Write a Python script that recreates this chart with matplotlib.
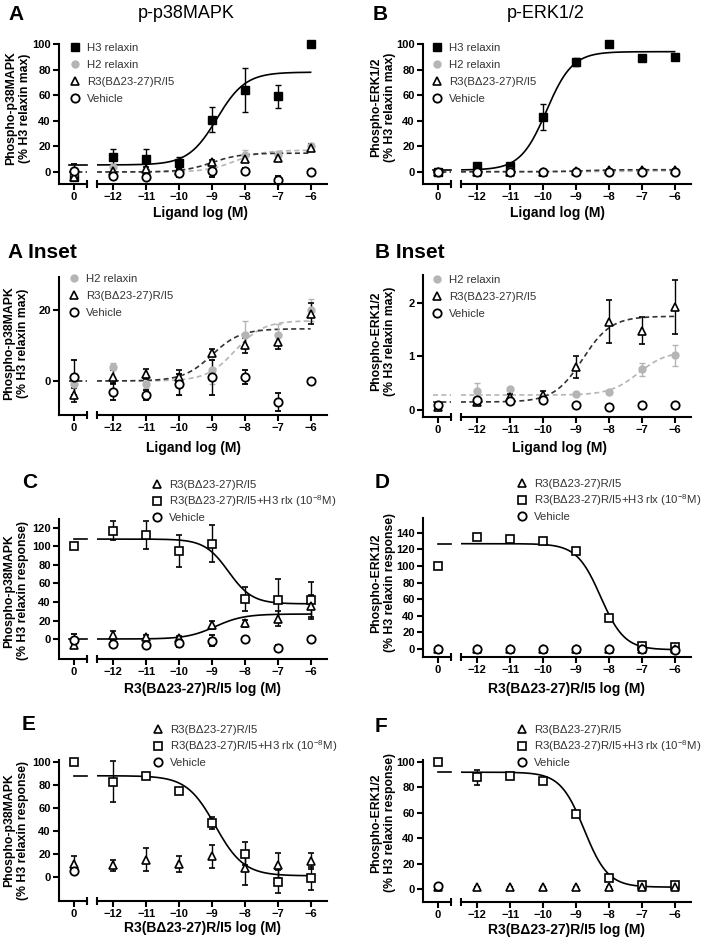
import numpy as np
import matplotlib
matplotlib.use('Agg')
import matplotlib.pyplot as plt
from matplotlib.lines import Line2D

plt.rcParams['font.family'] = ['Liberation Sans', 'DejaVu Sans']
plt.rcParams['mathtext.fontset'] = 'custom'
plt.rcParams['mathtext.rm'] = 'Liberation Sans'
plt.rcParams['mathtext.it'] = 'Liberation Sans'

# x positions: first entry is the basal "0" point, the rest are log doses
doses = [0, -12, -11, -10, -9, -8, -7, -6]
dose_labels = ['0', '\u221212', '\u221211', '\u221210', '\u22129', '\u22128', '\u22127', '\u22126']

# Panel A / A inset (p-p38MAPK, % H3 relaxin max)
a_h3 = [-4, 12, 10, 7, 41, 64, 59, 100]
a_h3_err = [2, 6, 8, 5, 10, 17, 9, 0]
a_h2 = [-1, 4, -1, -1, 3, 13, 13, 20]
a_h2_err = [3, 1, 1, 3, 4, 4, 3, 3]
a_r3 = [-4, 1, 2, 1, 8, 10, 11, 19]
a_r3_err = [2, 2, 1.5, 2, 1, 2, 2, 3]
a_veh = [1, -3, -4, -1, 1, 1, -6, 0]
a_veh_err = [5, 2.5, 1.5, 3, 5, 2, 2.5, 0]
# fit params: [value at low dose, value at high dose, logEC50, hill]
a_h3_fit = [5.5, 78, -8.85, 1.0]
a_h2_fit = [0, 17, -8.3, 1.0]
a_r3_fit = [0, 14.7, -9.0, 1.0]

# Panel B / B inset (p-ERK1/2, % H3 relaxin max)
b_h3 = [0, 5, 5, 43, 86, 100, 89, 90]
b_h3_err = [0, 1, 1, 10, 3, 0, 1, 1]
b_h2 = [0.05, 0.35, 0.4, 0.2, 0.3, 0.33, 0.76, 1.02]
b_h2_err = [0.02, 0.15, 0.03, 0.05, 0.03, 0.03, 0.12, 0.2]
b_r3 = [0.05, 0.15, 0.25, 0.28, 0.8, 1.65, 1.48, 1.92]
b_r3_err = [0.03, 0.03, 0.05, 0.08, 0.2, 0.4, 0.25, 0.5]
b_veh = [0.1, 0.18, 0.17, 0.18, 0.09, 0.05, 0.1, 0.1]
b_veh_err = [0, 0, 0, 0, 0, 0, 0, 0]
b_h3_fit = [1.5, 94, -9.9, 1.1]
b_h2_fit = [0.28, 1.1, -7.1, 1.0]
b_r3_fit = [0.15, 1.75, -8.8, 1.0]

# Panel C (p-p38MAPK, % H3 relaxin response)
c_sq = [100, 117, 112, 95, 103, 43, 42, 42]
c_sq_err = [0, 10, 15, 17, 20, 13, 23, 20]
c_tri = [-7, 4, 2, 1, 15, 17, 22, 36]
c_tri_err = [3, 5, 2, 2, 4, 4, 8, 12]
c_veh = [-1, -5, -7, -4, -2, 0, -10, 0]
c_veh_err = [6, 3, 2, 5, 6, 2, 3, 0]
c_sq_fit = [108, 38, -8.5, 1.2]
c_tri_fit = [0, 27, -8.9, 1.0]

# Panel D (p-ERK1/2, % H3 relaxin response)
d_sq = [100, 135, 133, 130, 118, 37, 3, 2]
d_sq_err = [0, 0, 0, 0, 0, 0, 0, 0]
d_tri = [0, 0, 0, 0, 0, 0, 0, 0]
d_tri_err = [0, 0, 0, 0, 0, 0, 0, 0]
d_veh = [0, 0, 0, 0, 0, 0, 0, -1]
d_veh_err = [0, 0, 0, 0, 0, 0, 0, 0]
d_sq_fit = [127, -1, -8.25, 1.2]

# Panel E (p-p38MAPK, % H3 relaxin response)
e_sq = [100, 83, 88, 75, 47, 20, -4, -1]
e_sq_err = [0, 18, 1, 2, 5, 10, 10, 10]
e_tri = [11, 10, 15, 11, 18, 8, 10, 14]
e_tri_err = [7, 5, 10, 7, 10, 15, 11, 7]
e_veh = [5, np.nan, np.nan, np.nan, np.nan, np.nan, np.nan, np.nan]
e_veh_err = [0, 0, 0, 0, 0, 0, 0, 0]
e_sq_fit = [88, 1, -8.9, 1.0]

# Panel F (p-ERK1/2, % H3 relaxin response)
f_sq = [100, 88, 89, 85, 59, 9, 3, 3]
f_sq_err = [0, 6, 1, 1, 2, 1, 1, 1]
f_tri = [2, 2, 2, 2, 2, 2, 2, 2]
f_tri_err = [0, 0, 0, 0, 0, 0, 0, 0]
f_veh = [2.5, np.nan, np.nan, np.nan, np.nan, np.nan, np.nan, np.nan]
f_veh_err = [0, 0, 0, 0, 0, 0, 0, 0]
f_sq_fit = [92, 1.5, -8.75, 1.2]

W, H = 705, 944
fig = plt.figure(figsize=(W / 100, H / 100), dpi=100)
GRAY = '#b5b5b5'
LEG_COLOR = '#333333'


def rect(x0, y0, x1, y1):
    return [x0 / W, 1 - y1 / H, (x1 - x0) / W, (y1 - y0) / H]


def logistic(x, p):
    lo, hi, ec50, hill = p
    return lo + (hi - lo) / (1 + 10 ** ((ec50 - x) * hill))


def make_panel(col, top, bot, ylim, yticks):
    x0 = 59 if col == 0 else 423
    axl = fig.add_axes(rect(x0, top, x0 + 28, bot))
    axm = fig.add_axes(rect(x0 + 38, top, x0 + 268, bot))
    for ax in (axl, axm):
        ax.set_ylim(*ylim)
        ax.patch.set_visible(False)
        ax.spines['top'].set_visible(False)
        ax.spines['right'].set_visible(False)
        ax.spines['left'].set_linewidth(1.5)
        ax.spines['bottom'].set_linewidth(1.5)
        ax.tick_params(direction='out', length=4, width=1.5, labelsize=8, pad=2)
    axm.spines['left'].set_visible(False)
    axm.set_yticks([])
    axl.set_xlim(-0.45, 0.4)
    axl.set_xticks([0])
    axl.set_xticklabels(dose_labels[:1])
    axm.set_xlim(-12.5, -5.5)
    axm.set_xticks(doses[1:])
    axm.set_xticklabels(dose_labels[1:])
    axl.set_yticks(yticks)
    for ax in (axl, axm):
        for lbl in ax.get_xticklabels() + ax.get_yticklabels():
            lbl.set_fontweight('bold')
    # break marks
    axl.plot([1], [0], marker='|', ms=6, mew=1.5, color='k',
             transform=axl.transAxes, clip_on=False)
    axm.plot([0], [0], marker='|', ms=6, mew=1.5, color='k',
             transform=axm.transAxes, clip_on=False)
    return axl, axm


def points(axl, axm, y, err, style):
    y = np.asarray(y, float)
    err = np.asarray(err, float)
    for ax, xs, ys, es in ((axl, doses[:1], y[:1], err[:1]),
                           (axm, doses[1:], y[1:], err[1:])):
        cont = ax.errorbar(xs, ys, yerr=es, elinewidth=1, capsize=2.5,
                           capthick=1, **style)
        for art in cont.get_children():
            art.set_clip_on(False)


def curve(axl, axm, p, color='k', ls='-', left_from=-0.15):
    xs = np.linspace(-12.5, -6, 200)
    axm.plot(xs, logistic(xs, p), color=color, ls=ls, lw=1.2, zorder=1)
    base = logistic(-30, p)
    axl.plot([left_from, 0.4], [base, base], color=color, ls=ls, lw=1.2,
             zorder=1, clip_on=False)


def legend(ax, handles, labels, mx, my, spacing):
    # mx, my: pixel centre of the first legend marker
    ax.legend(handles, labels, loc='upper left',
              bbox_to_anchor=((mx - 4.8) / W, 1 - (my - 4) / H),
              bbox_transform=fig.transFigure,
              frameon=False, fontsize=8.2, handlelength=0.85, handletextpad=0.6,
              labelspacing=spacing, borderpad=0, borderaxespad=0,
              labelcolor=LEG_COLOR)


H3 = dict(fmt='s', ms=5.5, mfc='k', mec='k', color='k', ecolor='k')
H2 = dict(fmt='o', ms=5, mfc=GRAY, mec=GRAY, color=GRAY, ecolor=GRAY)
TRI = dict(fmt='^', ms=5.5, mfc='white', mec='k', mew=1.2, color='k', ecolor='k')
VEH = dict(fmt='o', ms=6, mfc='white', mec='k', mew=1.3, color='k', ecolor='k')
SQ = dict(fmt='s', ms=6, mfc='white', mec='k', mew=1.2, color='k', ecolor='k')

h_h3 = Line2D([], [], ls='none', marker='s', ms=5.5, mfc='k', mec='k')
h_h2 = Line2D([], [], ls='none', marker='o', ms=5, mfc=GRAY, mec=GRAY)
h_tri = Line2D([], [], ls='none', marker='^', ms=5.5, mfc='white', mec='k', mew=1.2)
h_veh = Line2D([], [], ls='none', marker='o', ms=6, mfc='white', mec='k', mew=1.3)
h_sq = Line2D([], [], ls='none', marker='s', ms=6, mfc='white', mec='k', mew=1.2)

R3 = 'R3(B\u039423-27)R/I5'
lab4 = ['H3 relaxin', 'H2 relaxin', R3, 'Vehicle']
lab3 = ['H2 relaxin', R3, 'Vehicle']
lab_anta = [R3, R3 + '+H3 rlx (10$^{-8}$M)', 'Vehicle']
DASH = (0, (3, 2))

# ---- A
axl, axm = make_panel(0, 44, 184, (-9.4, 100), [0, 20, 40, 60, 80, 100])
curve(axl, axm, a_h3_fit)
curve(axl, axm, a_h2_fit, color=GRAY, ls=DASH)
curve(axl, axm, a_r3_fit, color='#333333', ls=DASH)
points(axl, axm, a_h3, a_h3_err, H3)
points(axl, axm, a_h2, a_h2_err, H2)
points(axl, axm, a_r3, a_r3_err, TRI)
points(axl, axm, a_veh, a_veh_err, VEH)
legend(axm, [h_h3, h_h2, h_tri, h_veh], lab4, 75, 47, 0.6)

# ---- B
axl, axm = make_panel(1, 44, 184, (-9.4, 100), [0, 20, 40, 60, 80, 100])
curve(axl, axm, b_h3_fit)
curve(axl, axm, b_h2_fit, color=GRAY, ls=DASH)
curve(axl, axm, b_r3_fit, color='#333333', ls=DASH)
points(axl, axm, b_h3, b_h3_err, H3)
points(axl, axm, b_h2, b_h2_err, H2)
points(axl, axm, b_r3, b_r3_err, TRI)
points(axl, axm, b_veh, b_veh_err, VEH)
legend(axm, [h_h3, h_h2, h_tri, h_veh], lab4, 437, 47, 0.6)

# ---- A inset
axl, axm = make_panel(0, 277, 415, (-9.6, 29.3), [0, 20])
curve(axl, axm, a_h2_fit, color=GRAY, ls=DASH)
curve(axl, axm, a_r3_fit, color='#333333', ls=DASH)
points(axl, axm, a_h2, a_h2_err, H2)
points(axl, axm, a_r3, a_r3_err, TRI)
points(axl, axm, a_veh, a_veh_err, VEH)
legend(axm, [h_h2, h_tri, h_veh], lab3, 74, 278, 0.6)

# ---- B inset
axl, axm = make_panel(1, 275, 417, (-0.13, 2.52), [0, 1, 2])
curve(axl, axm, b_h2_fit, color=GRAY, ls=DASH)
curve(axl, axm, b_r3_fit, color='#333333', ls=DASH)
points(axl, axm, b_h2, b_h2_err, H2)
points(axl, axm, b_r3, b_r3_err, TRI)
points(axl, axm, b_veh, b_veh_err, VEH)
legend(axm, [h_h2, h_tri, h_veh], lab3, 437, 279, 0.6)

# ---- C
axl, axm = make_panel(0, 519, 659, (-21.6, 129.7), [0, 20, 40, 60, 80, 100, 120])
curve(axl, axm, c_sq_fit, left_from=0)
curve(axl, axm, c_tri_fit)
points(axl, axm, c_sq, c_sq_err, SQ)
points(axl, axm, c_tri, c_tri_err, TRI)
points(axl, axm, c_veh, c_veh_err, VEH)
legend(axm, [h_tri, h_sq, h_veh], lab_anta, 157, 484, 0.3)

# ---- D
axl, axm = make_panel(1, 518, 657, (-9.7, 158), [0, 20, 40, 60, 80, 100, 120, 140])
curve(axl, axm, d_sq_fit, left_from=0)
points(axl, axm, d_sq, d_sq_err, SQ)
points(axl, axm, d_tri, d_tri_err, TRI)
points(axl, axm, d_veh, d_veh_err, VEH)
legend(axm, [h_tri, h_sq, h_veh], lab_anta, 522, 483, 0.3)

# ---- E
axl, axm = make_panel(0, 760, 901, (-20.9, 101.7), [0, 20, 40, 60, 80, 100])
curve(axl, axm, e_sq_fit, left_from=0)
points(axl, axm, e_sq, e_sq_err, SQ)
points(axl, axm, e_tri, e_tri_err, TRI)
points(axl, axm, e_veh, e_veh_err, VEH)
legend(axm, [h_tri, h_sq, h_veh], lab_anta, 158, 729, 0.3)

# ---- F
axl, axm = make_panel(1, 760, 902, (-10.2, 101.6), [0, 20, 40, 60, 80, 100])
curve(axl, axm, f_sq_fit, left_from=0)
points(axl, axm, f_sq, f_sq_err, SQ)
points(axl, axm, f_tri, f_tri_err, TRI)
points(axl, axm, f_veh, f_veh_err, VEH)
legend(axm, [h_tri, h_sq, h_veh], lab_anta, 522, 729, 0.3)

# ---- figure texts
def ftext(x, y, s, **kw):
    fig.text(x / W, 1 - y / H, s, **kw)

big = dict(fontsize=15, fontweight='bold', va='center', ha='left')
ftext(8, 14, 'A', **big)
ftext(373, 14, 'B', **big)
ftext(8, 252, 'A Inset', **big)
ftext(375, 253, 'B Inset', **big)
ftext(22, 483, 'C', **big)
ftext(375, 483, 'D', **big)
ftext(22, 725, 'E', **big)
ftext(375, 727, 'F', **big)
ftext(186, 14, 'p-p38MAPK', fontsize=13, ha='center', va='center')
ftext(546, 14, 'p-ERK1/2', fontsize=13, ha='center', va='center')

yl = dict(fontsize=8.8, fontweight='bold', rotation=90, ha='center', va='center',
          multialignment='center', linespacing=1.12)
ftext(18, 108, 'Phospho-p38MAPK\n(% H3 relaxin max)', **yl)
ftext(383, 107, 'Phospho-ERK1/2\n(% H3 relaxin max)', **yl)
ftext(16, 343, 'Phospho-p38MAPK\n(% H3 relaxin max)', **yl)
ftext(383, 341, 'Phospho-ERK1/2\n(% H3 relaxin max)', **yl)
ftext(16, 591, 'Phospho-p38MAPK\n(% H3 relaxin response)', **yl)
ftext(383, 583, 'Phospho-ERK1/2\n(% H3 relaxin response)', **yl)
ftext(16, 830, 'Phospho-p38MAPK\n(% H3 relaxin response)', **yl)
ftext(383, 823, 'Phospho-ERK1/2\n(% H3 relaxin response)', **yl)

xl = dict(fontsize=10, fontweight='bold', ha='center', va='center')
ftext(200, 213, 'Ligand log (M)', **xl)
ftext(557, 213, 'Ligand log (M)', **xl)
ftext(193, 448, 'Ligand log (M)', **xl)
ftext(560, 448, 'Ligand log (M)', **xl)
ftext(202, 689, R3 + ' log (M)', **xl)
ftext(567, 689, R3 + ' log (M)', **xl)
ftext(202, 928, R3 + ' log (M)', **xl)
ftext(567, 930, R3 + ' log (M)', **xl)

fig.savefig('out.png', dpi=100)
